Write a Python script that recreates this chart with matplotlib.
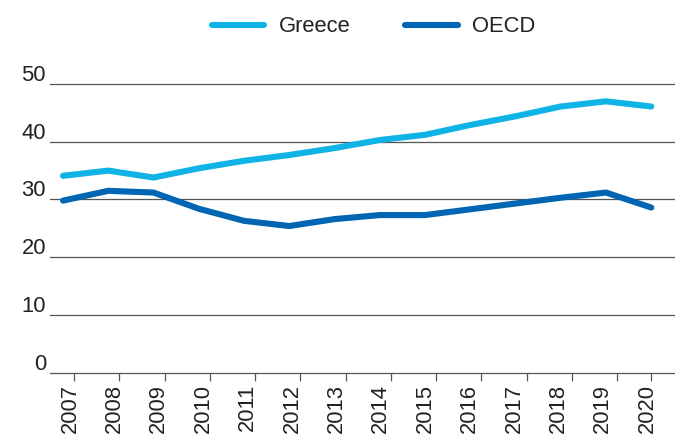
import matplotlib
matplotlib.use("Agg")
import matplotlib.pyplot as plt
import matplotlib.transforms as mtransforms
from matplotlib import font_manager

years = [2007, 2008, 2009, 2010, 2011, 2012, 2013, 2014, 2015, 2016, 2017, 2018, 2019, 2020]
greece = [34.1, 35.0, 33.8, 35.4, 36.7, 37.7, 38.9, 40.3, 41.2, 42.9, 44.4, 46.1, 47.0, 46.1]
oecd = [29.8, 31.5, 31.2, 28.4, 26.3, 25.4, 26.6, 27.3, 27.3, 28.3, 29.3, 30.3, 31.2, 28.6]
yticks = [0, 10, 20, 30, 40, 50]
series_names = ["Greece", "OECD"]

avail = {f.name for f in font_manager.fontManager.ttflist}
fam = "Liberation Sans" if "Liberation Sans" in avail else "DejaVu Sans"
plt.rcParams["font.family"] = [fam, "DejaVu Sans"]

FS = 15.8
TXT = "#222222"
GRID = "#555555"
C_GR = "#0fb3e6"
C_OE = "#0066b3"

fig = plt.figure(figsize=(6.75, 4.37), dpi=100)
W, H = 675, 437
ax = fig.add_axes([50 / W, 1 - 372.7 / H, 1 - 50 / W, (372.7 - 84) / H])

x = list(range(len(years)))
ax.set_xlim(-13 / 45.25, (675 - 63) / 45.25)
ax.set_ylim(0, 50)

for yv in yticks:
    ax.axhline(yv, color=GRID, lw=0.9, zorder=1, clip_on=False)

l1, = ax.plot(x, greece, color=C_GR, lw=4.4, solid_capstyle="round",
              solid_joinstyle="round", zorder=3, clip_on=False, label=series_names[0])
l2, = ax.plot(x, oecd, color=C_OE, lw=4.4, solid_capstyle="round",
              solid_joinstyle="round", zorder=3, clip_on=False, label=series_names[1])

for s in ax.spines.values():
    s.set_visible(False)
ax.set_yticks([])
ax.set_xticks([])

# tick marks below the axis
tick_pos = [i + 11 / 45.25 for i in range(len(years) - 1)] + [len(years) - 1]
ax.set_xticks(tick_pos, minor=True)
ax.tick_params(axis="x", which="minor", length=6, width=0.9, color=GRID, direction="out")
ax.tick_params(axis="x", which="major", length=0)

# y labels (above gridlines, left of axis)
off_y = mtransforms.offset_copy(ax.get_yaxis_transform(), fig=fig, x=-4, y=3, units="dots")
for yv in yticks:
    ax.text(0, yv, str(yv), transform=off_y, ha="right", va="baseline",
            fontsize=FS, color=TXT)

# x labels rotated
off_x = mtransforms.offset_copy(ax.transData, fig=fig, x=2, y=-11, units="dots")
for i, yr in enumerate(years):
    ax.text(i * 0.981 + 0.11, 0, str(yr), transform=off_x, rotation=90,
            ha="center", va="top", fontsize=FS, color=TXT)

fig.legend(handles=[l1, l2], loc="center", bbox_to_anchor=(373.5 / W, 1 - 27 / H),
           ncol=2, frameon=False, fontsize=FS, handlelength=2.4, handletextpad=0.65,
           columnspacing=2.5, labelcolor=TXT)

fig.savefig("out.png", dpi=100)
